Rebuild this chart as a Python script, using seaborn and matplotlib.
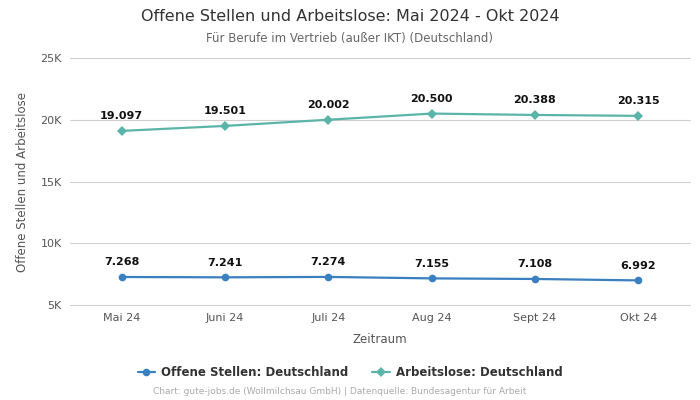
import numpy as np
import pandas as pd
import matplotlib
matplotlib.use("Agg")
import matplotlib.pyplot as plt
import seaborn as sns
from matplotlib.ticker import FuncFormatter

# Daten
monate = ["Mai 24", "Juni 24", "Juli 24", "Aug 24", "Sept 24", "Okt 24"]
offene_stellen = [7268, 7241, 7274, 7155, 7108, 6992]
arbeitslose = [19097, 19501, 20002, 20500, 20388, 20315]
serien = ["Offene Stellen: Deutschland", "Arbeitslose: Deutschland"]
farben = ["#3a7fbf", "#5ab5a8"]
marker = ["o", "D"]

sns.set_theme(style="whitegrid")
plt.rcParams["font.family"] = ["DejaVu Sans"]

df = pd.DataFrame({
    "Zeitraum": list(range(len(monate))) * 2,
    "Wert": offene_stellen + arbeitslose,
    "Serie": [serien[0]] * len(monate) + [serien[1]] * len(monate),
})

fig = plt.figure(figsize=(7, 4), dpi=100)
ax = fig.add_axes([0.1, 0.2375, 0.8857, 0.6175])

sns.lineplot(data=df, x="Zeitraum", y="Wert", hue="Serie", style="Serie",
             palette=farben, markers=marker, dashes=False, linewidth=1.6,
             markersize=5.5, markeredgewidth=0, ax=ax, legend=True)

# Datenbeschriftungen
for werte in (offene_stellen, arbeitslose):
    for i, v in enumerate(werte):
        ax.annotate(f"{v:,}".replace(",", "."), (i, v), xytext=(0, 7),
                    textcoords="offset points", ha="center", va="bottom",
                    fontsize=8, fontweight="bold", color="#111111")

ax.set_xlim(-0.5, len(monate) - 0.5)
ax.set_ylim(5000, 25000)
ax.set_yticks([5000, 10000, 15000, 20000, 25000])
ax.yaxis.set_major_formatter(FuncFormatter(lambda v, p: f"{int(v/1000)}K"))
ax.set_xticks(range(len(monate)))
ax.set_xticklabels(monate)
ax.tick_params(axis="both", labelsize=8, labelcolor="#555555", length=0, pad=6)
ax.grid(axis="x", visible=False)
ax.grid(axis="y", color="#d0d0d0", linewidth=0.8)
for gl in ax.get_ygridlines():
    gl.set_clip_on(False)
for s in ax.spines.values():
    s.set_visible(False)

ax.set_xlabel("Zeitraum", fontsize=8.5, color="#555555", labelpad=7)
ax.set_ylabel("Offene Stellen und Arbeitslose", fontsize=8.5, color="#555555", labelpad=8)

handles, labels = ax.get_legend_handles_labels()
ax.legend(handles, labels, loc="center", bbox_to_anchor=(0.5, 0.0675),
          bbox_transform=fig.transFigure, ncol=2, frameon=False,
          prop={"weight": "bold", "size": 8.5}, labelcolor="#333333",
          handlelength=1.5, handletextpad=0.5, columnspacing=2.0)

fig.text(0.5, 0.958, "Offene Stellen und Arbeitslose: Mai 2024 - Okt 2024",
         ha="center", va="center", fontsize=11.5, color="#333333")
fig.text(0.5, 0.903, "Für Berufe im Vertrieb (außer IKT) (Deutschland)",
         ha="center", va="center", fontsize=8.5, color="#666666")
fig.text(0.485, 0.02, "Chart: gute-jobs.de (Wollmilchsau GmbH) | Datenquelle: Bundesagentur für Arbeit",
         ha="center", va="center", fontsize=6.5, color="#aaaaaa")

fig.savefig("out.png", dpi=100)
